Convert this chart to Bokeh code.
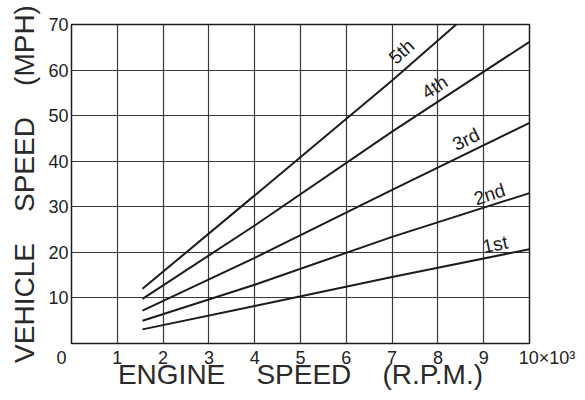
import math
import numpy as np
from bokeh.plotting import figure
from bokeh.models import Range1d, FixedTicker, ColumnDataSource
from bokeh.core.properties import value
from bokeh.embed import file_html
from bokeh.resources import INLINE

# ---- data ----
gears = ["1st", "2nd", "3rd", "4th", "5th"]
rpm_1st = [1.55, 4.0, 7.0, 10.0]
mph_1st = [3.1, 8.25, 14.6, 20.7]
rpm_2nd = [1.55, 4.0, 7.0, 10.0]
mph_2nd = [5.0, 12.9, 23.4, 33.0]
rpm_3rd = [1.55, 4.0, 7.0, 10.0]
mph_3rd = [7.2, 18.8, 33.7, 48.4]
rpm_4th = [1.55, 4.0, 7.0, 10.0]
mph_4th = [9.8, 25.9, 46.5, 66.2]
rpm_5th = [1.55, 4.0, 7.0, 8.4]
mph_5th = [12.0, 32.5, 57.7, 70.0]

x_ticks = [0, 1, 2, 3, 4, 5, 6, 7, 8, 9, 10]
y_ticks = [10, 20, 30, 40, 50, 60, 70]
x_tick_labels = {0: "0", 10: "10\u00d710\u00b3"}
x_title = "ENGINE\u00a0\u00a0\u00a0\u00a0SPEED\u00a0\u00a0\u00a0\u00a0(R.P.M.)"
y_title = "VEHICLE\u00a0\u00a0\u00a0\u00a0SPEED\u00a0\u00a0\u00a0\u00a0(MPH)"

series = [(rpm_1st, mph_1st), (rpm_2nd, mph_2nd), (rpm_3rd, mph_3rd),
          (rpm_4th, mph_4th), (rpm_5th, mph_5th)]

# ---- layout / style ----
W, H = 577, 392
BL, BR, BT, BB = 71, 48, 24, 44
FW, FH = W - BL - BR, H - BT - BB
FONT = "Liberation Sans"
INK = "#1c1c1c"
GRID = "#3a3a3a"
NB = "\u00a0"

p = figure(width=W, height=H,
           min_border_left=BL, min_border_right=BR, min_border_top=BT,
           min_border_bottom=BB, output_backend="svg", toolbar_location=None,
           x_range=Range1d(0, 10), y_range=Range1d(0, 70))
p.background_fill_color = "white"
p.border_fill_color = "white"
p.outline_line_color = INK
p.outline_line_width = 1.5

p.xaxis.ticker = FixedTicker(ticks=x_ticks)
p.yaxis.ticker = FixedTicker(ticks=y_ticks)
# pad the corner labels so they sit where the original prints them
p.xaxis.major_label_overrides = {
    0: x_tick_labels[0] + NB * 4,
    10: NB * 7 + x_tick_labels[10],
}
p.xgrid.ticker = FixedTicker(ticks=x_ticks[1:-1])
p.ygrid.ticker = FixedTicker(ticks=y_ticks[:-1])
for g in (p.xgrid, p.ygrid):
    g.grid_line_color = GRID
    g.grid_line_width = 1.2
    g.grid_line_alpha = 1.0
for ax in (p.xaxis, p.yaxis):
    ax.axis_line_color = None
    ax.major_tick_line_color = None
    ax.minor_tick_line_color = None
    ax.major_tick_out = 0
    ax.major_tick_in = 0
    ax.major_label_text_font = FONT
    ax.major_label_text_font_size = "18px"
    ax.major_label_text_color = "#222222"
    ax.axis_label_text_font = FONT
    ax.axis_label_text_font_size = "28px"
    ax.axis_label_text_font_style = "normal"
    ax.axis_label_text_color = "#2a2a2a"
p.xaxis.major_label_standoff = 4
p.yaxis.major_label_standoff = 3
p.xaxis.axis_label = x_title
p.yaxis.axis_label = y_title
p.xaxis.axis_label_standoff = -12
p.yaxis.axis_label_standoff = 5

# gear lines
for xs, ys in series:
    p.line(xs, ys, line_color=INK, line_width=2)

# gear labels along lines
label_x = [9.3, 9.2, 8.74, 8.1, 7.43]
label_off = [1.0, 0.5, 2.5, 3.5, 5.0]
px_x = FW / 10.0
px_y = FH / 70.0
lx, ly, la, xo, yo = [], [], [], [], []
for (xs, ys), x0, off in zip(series, label_x, label_off):
    y0 = float(np.interp(x0, xs, ys))
    i = max(1, min(len(xs) - 1, int(np.searchsorted(xs, x0))))
    slope = (ys[i] - ys[i - 1]) / (xs[i] - xs[i - 1])
    ang = math.atan(slope * px_y / px_x)
    lx.append(x0); ly.append(y0); la.append(ang)
    xo.append(-off * math.sin(ang)); yo.append(-off * math.cos(ang))
src = ColumnDataSource(dict(x=lx, y=ly, text=gears, angle=la, xo=xo, yo=yo))
p.text(x="x", y="y", text="text", angle="angle", x_offset="xo", y_offset="yo",
       source=src, text_font=value(FONT), text_font_size="19px",
       text_color=INK, text_align="center", text_baseline="bottom")

open("out.html", "w").write(file_html(p, INLINE))
